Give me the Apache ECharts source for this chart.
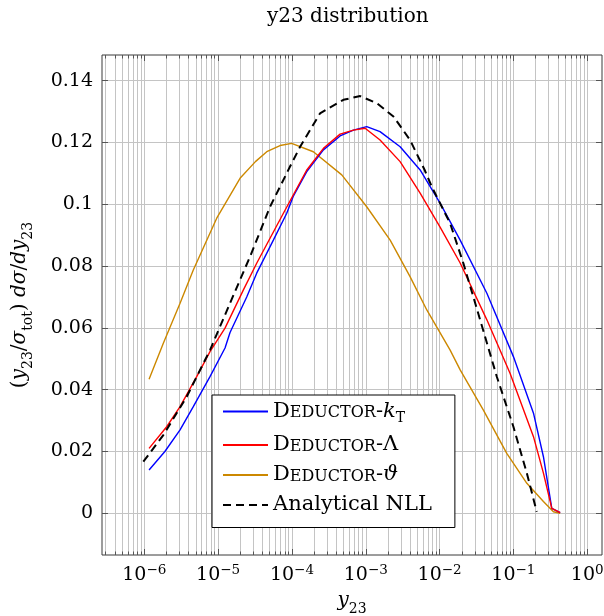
<!DOCTYPE html>
<html>
<head>
<meta charset="utf-8">
<script src="https://cdn.jsdelivr.net/npm/echarts@6/dist/echarts.min.js"></script>
<style>
  html, body { margin: 0; padding: 0; background: #fff; }
  #chart { width: 604px; height: 616px; }
</style>
</head>
<body>
<div id="chart"></div>
<script>
// y23 values (x) and (y23/sigma) dsigma/dy23 values
const ktX = [1.16e-6, 1.9e-6, 3.05e-6, 4.61e-6, 7.76e-6, 1.24e-5, 1.45e-5, 2.44e-5, 3.33e-5, 5.6e-5, 8.5e-5, 1.04e-4,
  1.58e-4, 2.67e-4, 4.49e-4, 6.8e-4, 1.03e-3, 1.56e-3, 2.92e-3, 5.45e-3, 1.02e-2, 1.9e-2, 4.37e-2, 0.1, 0.187, 0.255, 0.331, 0.43];
const ktY = [0.014, 0.020, 0.027, 0.0345, 0.0442, 0.0535, 0.0585, 0.070, 0.0777, 0.0884, 0.0971, 0.1025,
  0.1105, 0.1176, 0.1221, 0.124, 0.1251, 0.1235, 0.1186, 0.1111, 0.1003, 0.0884, 0.0712, 0.0507, 0.0324, 0.0183, 0.0016, 0.0002];

const lamX = [1.16e-6, 2.01e-6, 3.05e-6, 5.13e-6, 7.76e-6, 1.24e-5, 2.2e-5, 3.33e-5, 7.66e-5, 1.58e-4, 2.67e-4, 4.49e-4,
  6.8e-4, 9.8e-4, 1.56e-3, 2.92e-3, 5.45e-3, 1.02e-2, 1.9e-2, 4.37e-2, 9.0e-2, 0.187, 0.255, 0.331, 0.43];
const lamY = [0.021, 0.028, 0.0345, 0.0442, 0.0523, 0.0599, 0.0723, 0.0809, 0.0971, 0.111, 0.1181, 0.1227,
  0.124, 0.1246, 0.1208, 0.1138, 0.1036, 0.0925, 0.081, 0.0626, 0.0453, 0.0248, 0.013, 0.0016, 0.0002];

const thX = [1.16e-6, 1.81e-6, 3.05e-6, 4.61e-6, 9.57e-6, 1.98e-5, 3.2e-5, 4.56e-5, 6.9e-5, 9.9e-5, 1.95e-4, 4.73e-4, 1.03e-3,
  2.14e-3, 3.98e-3, 6.71e-3, 1.39e-2, 1.9e-2, 3.92e-2, 8.13e-2, 0.152, 0.255, 0.348, 0.43];
const thY = [0.0434, 0.055, 0.068, 0.0787, 0.0955, 0.1084, 0.1138, 0.117, 0.119, 0.1197, 0.117, 0.1095, 0.0992,
  0.0884, 0.0766, 0.0658, 0.0528, 0.0464, 0.0334, 0.0194, 0.0097, 0.0038, 0.0005, 0.0];

const nllX = [9.7e-7, 1.81e-6, 3.75e-6, 7.76e-6, 1.45e-5, 2.7e-5, 5.05e-5, 6.9e-5, 9.42e-5, 1.29e-4, 2.4e-4, 4.98e-4,
  8.4e-4, 1.41e-3, 2.37e-3, 3.98e-3, 6.3e-3, 7.83e-3, 1.39e-2, 2.1e-2, 3.54e-2, 5.96e-2, 0.1, 0.152, 0.207];
const nllY = [0.0167, 0.0253, 0.0377, 0.0528, 0.068, 0.083, 0.0992, 0.1057, 0.1122, 0.1186, 0.1294, 0.1338,
  0.135, 0.1327, 0.1284, 0.1208, 0.111, 0.1057, 0.0938, 0.0809, 0.0626, 0.0442, 0.028, 0.013, 0.0005];

const xTicks = [1e-6, 1e-5, 1e-4, 1e-3, 1e-2, 1e-1, 1];
const yTicks = [0, 0.02, 0.04, 0.06, 0.08, 0.1, 0.12, 0.14];

const xMin = Math.pow(10, -6.573);
const xMax = Math.pow(10, 0.2);
const yMin = -0.0135;
const yMax = 0.1483;

// minor decade ticks 2..9 x 10^n inside the axis range
const xMinor = [];
for (let n = -7; n <= 0; n++) {
  for (let k = 2; k <= 9; k++) {
    const v = k * Math.pow(10, n);
    if (v > xMin && v < xMax) xMinor.push(v);
  }
}

const FONT = 'DejaVu Serif';
const GRID = '#c4c4c4';
const TICK = '#555';

function pairs(xs, ys) {
  return xs.map((x, i) => [x, ys[i]]);
}

function xAxisBase(position, opts) {
  return Object.assign({
    type: 'log',
    logBase: 10,
    position: position,
    min: xMin,
    max: xMax,
    axisLine: { show: false, onZero: false },
    axisLabel: { show: false },
    splitLine: { show: false },
    minorTick: { show: false },
    axisPointer: { show: false }
  }, opts);
}

const richMain = {
  b: { fontFamily: FONT, fontSize: 19, color: '#000', lineHeight: 24 },
  sup: { fontFamily: FONT, fontSize: 13.5, color: '#000', verticalAlign: 'top', lineHeight: 24 }
};

const richLegend = {
  b: { fontFamily: FONT, fontSize: 21, color: '#000', lineHeight: 22 },
  sc: { fontFamily: FONT, fontSize: 16, color: '#000', lineHeight: 22, verticalAlign: 'middle', padding: [3, 0, 0, 0] },
  i: { fontFamily: FONT, fontStyle: 'italic', fontSize: 21, color: '#000', lineHeight: 22 },
  sub: { fontFamily: FONT, fontSize: 14, color: '#000', lineHeight: 22, verticalAlign: 'bottom', padding: [0, 0, -3, 0] }
};

const legendText = {
  'Deductor-kT': '{b|D}{sc|EDUCTOR}{b|-}{i|k}{sub|T}',
  'Deductor-Lambda': '{b|D}{sc|EDUCTOR}{b|-Λ}',
  'Deductor-theta': '{b|D}{sc|EDUCTOR}{b|-}{i|ϑ}',
  'Analytical NLL': '{b|Analytical NLL}'
};

const myChart = echarts.init(document.getElementById('chart'));

const options = {
  animation: false,
  backgroundColor: '#fff',
  title: {
    text: 'y23 distribution',
    left: 267,
    top: 7,
    padding: 0,
    textStyle: { fontFamily: FONT, fontSize: 20, fontWeight: 'normal', color: '#000' }
  },
  grid: {
    left: 102,
    right: 2,
    top: 55,
    bottom: 61,
    containLabel: false,
    outerBoundsMode: 'none',
    show: true,
    borderColor: '#3a3a3a',
    borderWidth: 1,
    backgroundColor: 'transparent'
  },
  legend: {
    orient: 'vertical',
    left: 212,
    top: 395,
    padding: [6, 23, 12, 10],
    itemWidth: 45,
    itemHeight: 14,
    itemGap: 9,
    backgroundColor: '#fff',
    borderColor: '#000',
    borderWidth: 1,
    borderRadius: 0,
    selectedMode: false,
    itemStyle: { opacity: 0 },
    data: ['Deductor-kT', 'Deductor-Lambda', 'Deductor-theta', 'Analytical NLL'],
    formatter: name => legendText[name],
    textStyle: { rich: richLegend }
  },
  xAxis: [
    xAxisBase('bottom', {
      name: '{i|y}{s|23}',
      nameLocation: 'middle',
      nameGap: 34,
      nameTextStyle: {
        rich: {
          i: { fontFamily: FONT, fontStyle: 'italic', fontSize: 20, color: '#000', lineHeight: 24 },
          s: { fontFamily: FONT, fontSize: 14, color: '#000', lineHeight: 24, verticalAlign: 'bottom', padding: [0, 0, -3, 0] }
        }
      },
      axisLabel: {
        show: true,
        customValues: xTicks,
        margin: 8,
        formatter: v => {
          const e = Math.round(Math.log10(v));
          return '{b|10}{sup|' + (e < 0 ? '\u2212' + (-e) : e) + '}';
        },
        rich: richMain
      },
      axisTick: { show: true, inside: true, length: 6, customValues: xTicks, lineStyle: { color: TICK } },
      splitLine: { show: true, lineStyle: { color: GRID, width: 1 } }
    }),
    xAxisBase('bottom', {
      axisTick: { show: true, inside: true, length: 3.5, customValues: xMinor, lineStyle: { color: TICK } },
      splitLine: { show: true, lineStyle: { color: GRID, width: 1 } }
    }),
    xAxisBase('top', {
      axisTick: { show: true, inside: true, length: 6, customValues: xTicks, lineStyle: { color: TICK } }
    }),
    xAxisBase('top', {
      axisTick: { show: true, inside: true, length: 3.5, customValues: xMinor, lineStyle: { color: TICK } }
    })
  ],
  yAxis: [
    {
      type: 'value',
      position: 'left',
      min: yMin,
      max: yMax,
      name: '{r|(}{i|y}{s|23}{r|/}{i|σ}{s|tot}{r|) }{i|dσ}{r|/}{i|dy}{s|23}',
      nameLocation: 'middle',
      nameRotate: 90,
      nameGap: 70,
      nameTextStyle: {
        rich: {
          r: { fontFamily: FONT, fontSize: 20, color: '#000', lineHeight: 24 },
          i: { fontFamily: FONT, fontStyle: 'italic', fontSize: 20, color: '#000', lineHeight: 24 },
          s: { fontFamily: FONT, fontSize: 14, color: '#000', lineHeight: 24, verticalAlign: 'bottom', padding: [0, 0, -3, 0] }
        }
      },
      axisLine: { show: false, onZero: false },
      axisLabel: {
        customValues: yTicks,
        margin: 9,
        fontFamily: FONT,
        fontSize: 19,
        color: '#000',
        formatter: v => String(Number(v.toFixed(2)))
      },
      axisTick: { show: true, inside: true, length: 6, customValues: yTicks, lineStyle: { color: TICK } },
      splitLine: { show: true, lineStyle: { color: GRID, width: 1 } }
    },
    {
      type: 'value',
      position: 'right',
      min: yMin,
      max: yMax,
      axisLine: { show: false, onZero: false },
      axisLabel: { show: false },
      axisTick: { show: true, inside: true, length: 6, customValues: yTicks, lineStyle: { color: TICK } },
      splitLine: { show: false }
    }
  ],
  series: [
    {
      name: 'Deductor-kT',
      type: 'line',
      symbol: 'none',
      data: pairs(ktX, ktY),
      color: '#0000ff',
      lineStyle: { width: 1.4, color: '#0000ff' },
      z: 4
    },
    {
      name: 'Deductor-Lambda',
      type: 'line',
      symbol: 'none',
      data: pairs(lamX, lamY),
      color: '#ff0000',
      lineStyle: { width: 1.4, color: '#ff0000' },
      z: 5
    },
    {
      name: 'Deductor-theta',
      type: 'line',
      symbol: 'none',
      data: pairs(thX, thY),
      color: '#cc8800',
      lineStyle: { width: 1.4, color: '#cc8800' },
      z: 3
    },
    {
      name: 'Analytical NLL',
      type: 'line',
      symbol: 'none',
      data: pairs(nllX, nllY),
      color: '#000',
      lineStyle: { width: 2, color: '#000', type: [8, 5] },
      z: 6
    }
  ]
};

myChart.setOption(options);
</script>
</body>
</html>
